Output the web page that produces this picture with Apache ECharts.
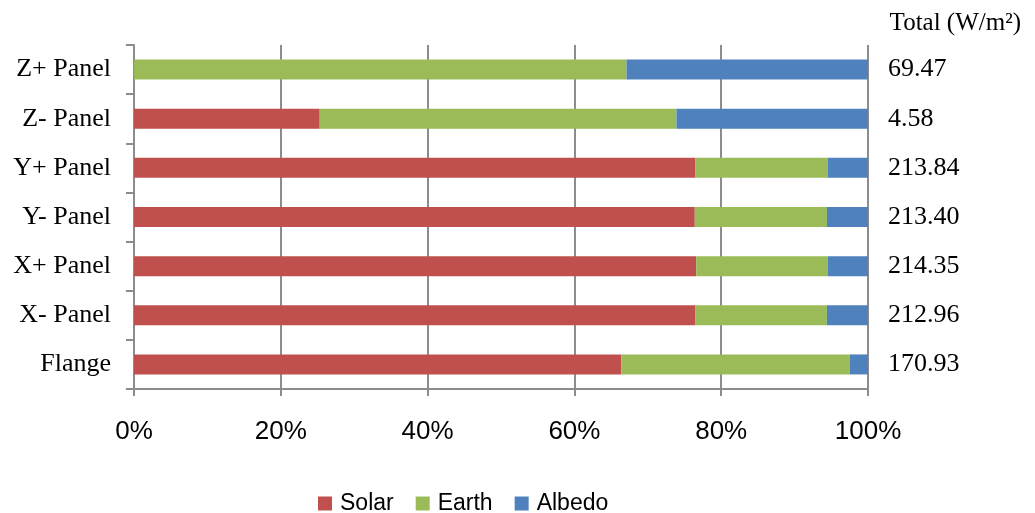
<!DOCTYPE html>
<html>
<head>
<meta charset="utf-8">
<script src="https://cdn.jsdelivr.net/npm/echarts@6/dist/echarts.min.js"></script>
<style>
  html, body { margin: 0; padding: 0; background: #fff; }
  #chart { width: 1035px; height: 513px; }
</style>
</head>
<body>
<div id="chart"></div>
<script>
// heat flux share per surface, % of total
const panels = ['Z+ Panel', 'Z- Panel', 'Y+ Panel', 'Y- Panel', 'X+ Panel', 'X- Panel', 'Flange']
const solar  = [0,    25.3, 76.5, 76.4, 76.6, 76.5, 66.4]
const earth  = [67.1, 48.6, 18.0, 18.0, 17.9, 17.9, 31.1]
const albedo = [32.9, 26.1, 5.5,  5.6,  5.5,  5.6,  2.5]
const totals = ['69.47', '4.58', '213.84', '213.40', '214.35', '212.96', '170.93']

const serif = '"Liberation Serif", "DejaVu Serif", serif'
const sans = '"Liberation Sans", Arial, sans-serif'
const gray = '#8c8c8c'

const chart = echarts.init(document.getElementById('chart'), null, { renderer: 'canvas' })

const bar = (name, data, color) => ({
  name, type: 'bar', stack: 'all', data,
  barWidth: 20,
  itemStyle: { color },
  emphasis: { disabled: true }
})

chart.setOption({
  animation: false,
  backgroundColor: '#fff',
  title: {
    text: 'Total (W/m²)',
    right: 9, top: 6,
    textStyle: { fontFamily: serif, fontSize: 25, fontWeight: 'normal', color: '#000' }
  },
  grid: { left: 134, right: 167, top: 45, bottom: 124 },
  legend: {
    left: 313, top: 487,
    icon: 'rect', itemWidth: 14, itemHeight: 14, itemGap: 22,
    textStyle: { fontFamily: sans, fontSize: 23, color: '#000', padding: [0, 0, 0, 3] },
    data: ['Solar', 'Earth', 'Albedo']
  },
  xAxis: {
    type: 'value',
    min: 0, max: 100, interval: 20,
    axisLine: { show: true, lineStyle: { color: gray, width: 2 } },
    axisTick: { show: true, length: 7, lineStyle: { color: gray, width: 2 } },
    axisLabel: { formatter: '{value}%', margin: 30, fontFamily: sans, fontSize: 26, color: '#000' },
    splitLine: { show: true, lineStyle: { color: gray, width: 2 } }
  },
  yAxis: [
    {
      type: 'category',
      data: panels,
      inverse: true,
      axisLine: { show: true, lineStyle: { color: gray, width: 2 } },
      axisTick: { show: true, length: 8, lineStyle: { color: gray, width: 2 } },
      axisLabel: { margin: 23, fontFamily: serif, fontSize: 26, color: '#000' }
    },
    {
      type: 'category',
      data: panels,
      inverse: true,
      position: 'right',
      axisLine: { show: false },
      axisTick: { show: false },
      axisLabel: {
        margin: 20, align: 'left',
        fontFamily: serif, fontSize: 26, color: '#000',
        formatter: (v, i) => totals[i]
      }
    }
  ],
  series: [
    bar('Solar', solar, '#c0504d'),
    bar('Earth', earth, '#9bbb59'),
    bar('Albedo', albedo, '#4f81bd')
  ]
})
</script>
</body>
</html>
